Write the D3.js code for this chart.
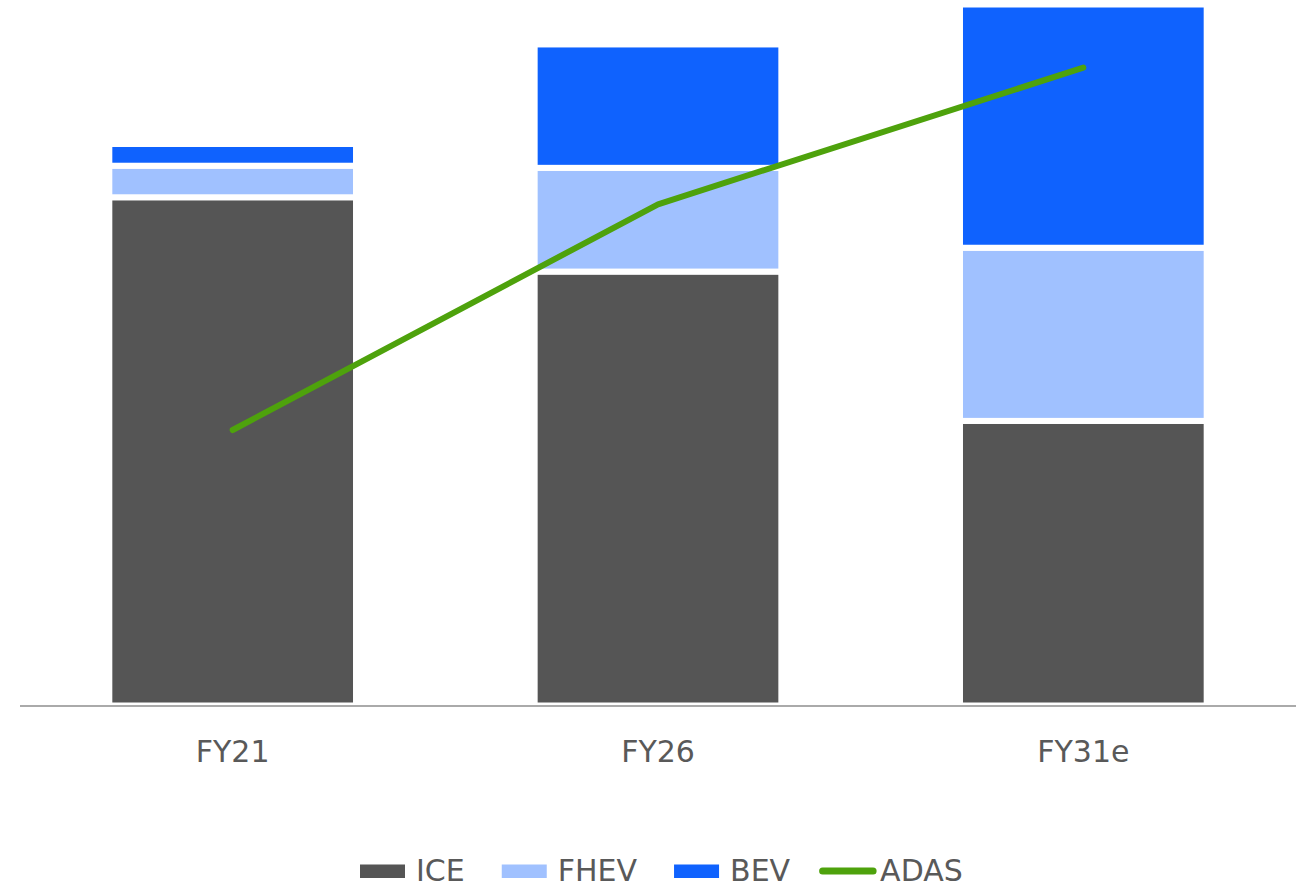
<!DOCTYPE html>
<html>
<head>
<meta charset="utf-8">
<script src="https://cdn.jsdelivr.net/npm/d3@7"></script>
<style>
  html, body { margin: 0; padding: 0; background: #fff; }
  svg { display: block; font-family: "DejaVu Sans", "Noto Sans", sans-serif; }
</style>
</head>
<body>
<svg id="chart" width="1307" height="888"></svg>
<script>
// Fiscal years on the category axis
const years = ["FY21", "FY26", "FY31e"];
// Powertrain mix (share of volume, stacked)
const ice  = [72.5, 61.9, 40.6];
const fhev = [4.5, 14.8, 24.7];
const bev  = [3.1, 17.6, 34.7];
// ADAS adoption (secondary measure, drawn as a line)
const adas = [39.3, 71.5, 91.0];

const seriesNames = ["ICE", "FHEV", "BEV"];
const colors = { ICE: "#555555", FHEV: "#a0c1ff", BEV: "#0f62fe", ADAS: "#4ea20c" };
const textColor = "#595959";
const fontSize = "30px";

const svg = d3.select("#chart");

const x = d3.scaleBand().domain(years).range([20, 1296]).paddingInner(0.42).paddingOuter(0.21);
const y = d3.scaleLinear().domain([0, 100]).range([705.5, 4.5]);
const y2 = d3.scaleLinear().domain([0, 100]).range([705.5, 4.5]);

const rows = years.map((yr, i) => ({ year: yr, ICE: ice[i], FHEV: fhev[i], BEV: bev[i] }));
const stacked = d3.stack().keys(seriesNames)(rows);

// Stacked bars with white separators
svg.append("g").selectAll("g")
  .data(stacked)
  .join("g")
  .attr("fill", d => colors[d.key])
  .selectAll("rect")
  .data(d => d)
  .join("rect")
  .attr("x", d => x(d.data.year))
  .attr("width", x.bandwidth())
  .attr("y", d => y(d[1]))
  .attr("height", d => y(d[0]) - y(d[1]))
  .attr("stroke", "#fff")
  .attr("stroke-width", 6);

// Category axis
const xAxis = svg.append("g")
  .attr("transform", `translate(0,${y(0)})`)
  .call(d3.axisBottom(x).tickSize(0).tickPadding(56));
xAxis.select(".domain").attr("stroke", "#aaaaaa").attr("stroke-width", 2).attr("d", "M20,0.5H1296");
xAxis.selectAll("text")
  .attr("fill", textColor)
  .style("font-size", fontSize)
  .style("font-family", "'DejaVu Sans', 'Noto Sans', sans-serif")
  .attr("dy", "0");

// ADAS line
const line = d3.line()
  .x((d, i) => x(years[i]) + x.bandwidth() / 2)
  .y(d => y2(d));
svg.append("path")
  .datum(adas)
  .attr("d", line)
  .attr("fill", "none")
  .attr("stroke", colors.ADAS)
  .attr("stroke-width", 6)
  .attr("stroke-linecap", "round")
  .attr("stroke-linejoin", "round");

// Legend
const legend = svg.append("g").attr("transform", "translate(360,871)");
const items = ["ICE", "FHEV", "BEV", "ADAS"];
let cx = 0;
items.forEach(name => {
  const g = legend.append("g").attr("transform", `translate(${cx},0)`);
  let textX;
  if (name === "ADAS") {
    g.append("line")
      .attr("x1", 3.5).attr("x2", 54).attr("y1", 0).attr("y2", 0)
      .attr("stroke", colors.ADAS).attr("stroke-width", 7).attr("stroke-linecap", "round");
    textX = 61;
  } else {
    g.append("rect")
      .attr("x", 0).attr("y", -6.5).attr("width", 45).attr("height", 13.5)
      .attr("fill", colors[name]);
    textX = 56;
  }
  const t = g.append("text")
    .attr("x", textX).attr("y", 10)
    .attr("fill", textColor)
    .style("font-size", fontSize)
    .text(name);
  cx += textX + t.node().getComputedTextLength() + (name === "BEV" ? 29 : 37);
});
</script>
</body>
</html>
